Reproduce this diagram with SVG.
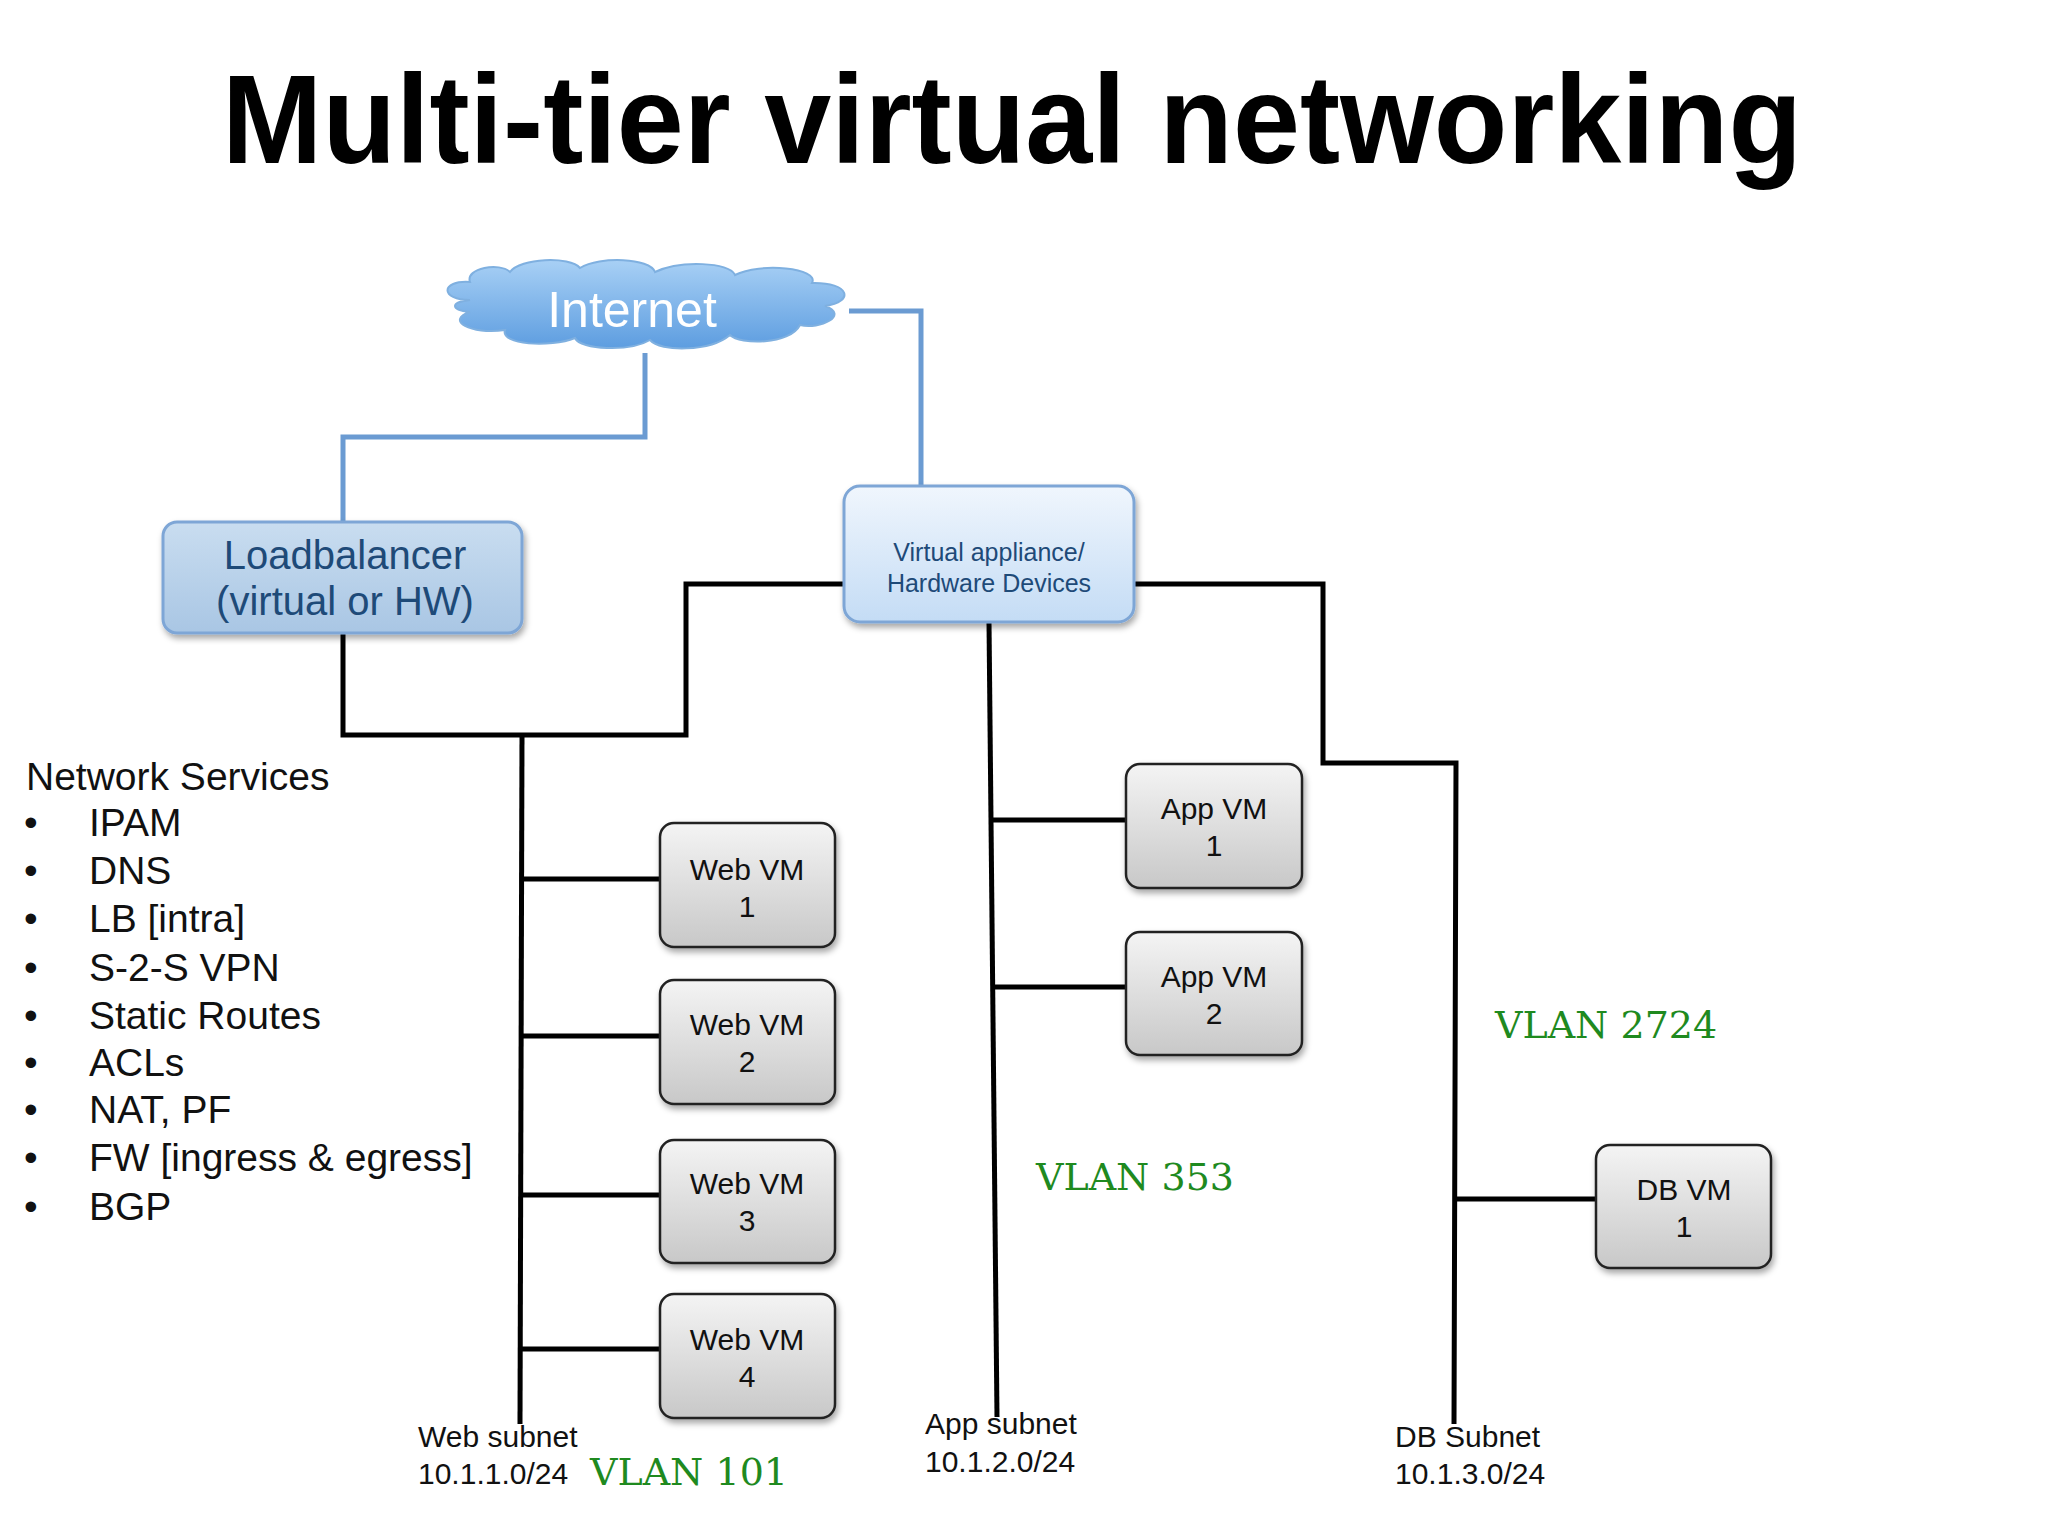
<svg xmlns="http://www.w3.org/2000/svg" width="2048" height="1536" viewBox="0 0 2048 1536">
<defs>
<linearGradient id="vm" x1="0" y1="0" x2="0" y2="1"><stop offset="0" stop-color="#f4f4f4"/><stop offset="1" stop-color="#c8c8c8"/></linearGradient>
<linearGradient id="lb" x1="0" y1="0" x2="0" y2="1"><stop offset="0" stop-color="#c9ddf0"/><stop offset="1" stop-color="#a9c6e4"/></linearGradient>
<linearGradient id="va" x1="0" y1="0" x2="0" y2="1"><stop offset="0" stop-color="#f0f6fd"/><stop offset="1" stop-color="#c4dcf5"/></linearGradient>
<linearGradient id="cl" x1="0" y1="0" x2="0" y2="1"><stop offset="0" stop-color="#a8d0f5"/><stop offset="1" stop-color="#5d9de0"/></linearGradient>
<filter id="sh"><feDropShadow dx="2" dy="4" stdDeviation="3" flood-opacity="0.35"/></filter>
</defs>
<style>
text{font-family:"Liberation Sans",Arial,sans-serif}
.vm rect{fill:url(#vm);stroke:#222;stroke-width:2.5;filter:url(#sh)}
.vm text{font-size:30px;text-anchor:middle;fill:#111}
.k{stroke:#000;stroke-width:5;fill:none}
.b{stroke:#6b9bd2;stroke-width:5;fill:none}
.vl{font-family:"DejaVu Serif","Liberation Serif",serif;fill:#1f8a1f;font-size:38px}
.sn{font-size:30px;fill:#111}
.ns{font-size:39px;fill:#111}
</style>
<rect width="2048" height="1536" fill="#fff"/>
<text x="222" y="163" font-size="126" font-weight="bold" textLength="1580" lengthAdjust="spacingAndGlyphs" fill="#000">Multi-tier virtual networking</text>
<g id="connectors">
<polyline class="b" points="645,353 645,437 343,437 343,522"/>
<polyline class="b" points="849,311 921,311 921,486"/>
<polyline class="k" points="343,633 343,735 686,735 686,584 844,584"/>
<line class="k" x1="522" y1="735" x2="520" y2="1424"/>
<line class="k" x1="522" y1="879" x2="660" y2="879"/>
<line class="k" x1="522" y1="1036" x2="660" y2="1036"/>
<line class="k" x1="522" y1="1195" x2="660" y2="1195"/>
<line class="k" x1="522" y1="1349" x2="660" y2="1349"/>
<line class="k" x1="989" y1="622" x2="997" y2="1417"/>
<line class="k" x1="992" y1="820" x2="1126" y2="820"/>
<line class="k" x1="993" y1="987" x2="1126" y2="987"/>
<polyline class="k" points="1134,584 1323,584 1323,763 1456,763 1454,1424"/>
<line class="k" x1="1456" y1="1199" x2="1596" y2="1199"/>
</g>
<g id="internet">
<path d="M470,300 C440,300 440,280 470,282 C465,268 500,262 510,272 C520,258 570,256 580,268 C600,256 650,258 655,272 C680,260 730,262 735,275 C760,262 820,268 812,283 C850,282 855,302 825,306 C850,315 820,330 800,325 C790,345 740,345 730,335 C710,352 660,352 650,340 C630,352 580,350 575,338 C550,348 500,345 505,330 C470,335 445,320 470,312 C450,310 450,302 470,300 Z" fill="url(#cl)" stroke="#7fb0e0" stroke-width="2"/>
<text x="632" y="327" font-size="50" text-anchor="middle" fill="#fff">Internet</text>
</g>
<g id="loadbalancer">
<rect x="163" y="522" width="359" height="111" rx="14" fill="url(#lb)" stroke="#7ea6d6" stroke-width="3" filter="url(#sh)"/>
<text x="345" y="569" font-size="40" text-anchor="middle" fill="#1e4a78">Loadbalancer</text>
<text x="345" y="615" font-size="40" text-anchor="middle" fill="#1e4a78">(virtual or HW)</text>
</g>
<g id="appliance">
<rect x="844" y="486" width="290" height="136" rx="16" fill="url(#va)" stroke="#7ea6d6" stroke-width="3" filter="url(#sh)"/>
<text x="989" y="561" font-size="25" text-anchor="middle" fill="#1e4a78">Virtual appliance/</text>
<text x="989" y="592" font-size="25" text-anchor="middle" fill="#1e4a78">Hardware Devices</text>
</g>
<g id="web1" class="vm"><rect x="660" y="823" width="175" height="124" rx="14"/><text x="747" y="880">Web VM</text><text x="747" y="917">1</text></g>
<g id="web2" class="vm"><rect x="660" y="980" width="175" height="124" rx="14"/><text x="747" y="1035">Web VM</text><text x="747" y="1072">2</text></g>
<g id="web3" class="vm"><rect x="660" y="1140" width="175" height="123" rx="14"/><text x="747" y="1194">Web VM</text><text x="747" y="1231">3</text></g>
<g id="web4" class="vm"><rect x="660" y="1294" width="175" height="124" rx="14"/><text x="747" y="1350">Web VM</text><text x="747" y="1387">4</text></g>
<g id="app1" class="vm"><rect x="1126" y="764" width="176" height="124" rx="14"/><text x="1214" y="819">App VM</text><text x="1214" y="856">1</text></g>
<g id="app2" class="vm"><rect x="1126" y="932" width="176" height="123" rx="14"/><text x="1214" y="987">App VM</text><text x="1214" y="1024">2</text></g>
<g id="db1" class="vm"><rect x="1596" y="1145" width="175" height="123" rx="14"/><text x="1684" y="1200">DB VM</text><text x="1684" y="1237">1</text></g>
<g id="labels">
<text class="vl" x="1495" y="1038">VLAN 2724</text>
<text class="vl" x="1036" y="1190">VLAN 353</text>
<text class="vl" x="590" y="1485">VLAN 101</text>
<text class="sn" x="418" y="1447">Web subnet</text>
<text class="sn" x="418" y="1484">10.1.1.0/24</text>
<text class="sn" x="925" y="1434">App subnet</text>
<text class="sn" x="925" y="1472">10.1.2.0/24</text>
<text class="sn" x="1395" y="1447">DB Subnet</text>
<text class="sn" x="1395" y="1484">10.1.3.0/24</text>
</g>
<g id="services">
<text class="ns" x="26" y="790">Network Services</text>
<text class="ns" x="24" y="836">•</text><text class="ns" x="89" y="836">IPAM</text>
<text class="ns" x="24" y="884">•</text><text class="ns" x="89" y="884">DNS</text>
<text class="ns" x="24" y="932">•</text><text class="ns" x="89" y="932">LB [intra]</text>
<text class="ns" x="24" y="981">•</text><text class="ns" x="89" y="981">S-2-S VPN</text>
<text class="ns" x="24" y="1029">•</text><text class="ns" x="89" y="1029">Static Routes</text>
<text class="ns" x="24" y="1076">•</text><text class="ns" x="89" y="1076">ACLs</text>
<text class="ns" x="24" y="1123">•</text><text class="ns" x="89" y="1123">NAT, PF</text>
<text class="ns" x="24" y="1171">•</text><text class="ns" x="89" y="1171">FW [ingress &amp; egress]</text>
<text class="ns" x="24" y="1220">•</text><text class="ns" x="89" y="1220">BGP</text>
</g>
</svg>
